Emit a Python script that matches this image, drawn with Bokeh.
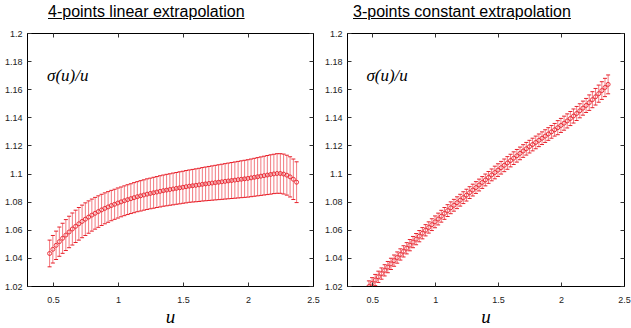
from bokeh.plotting import figure
from bokeh.models import (ColumnDataSource, Whisker, TeeHead, LinearAxis, FixedTicker,
                          CustomJSTickFormatter, Label, Range1d, Div)
from bokeh.layouts import row, column
from bokeh.embed import file_html
from bokeh.resources import INLINE

# ---------------- data ----------------
titles = ["4-points linear extrapolation", "3-points constant extrapolation"]
quantity_label = "σ(u)/u"
x_label = "u"
x_ticks = [0.5, 1.0, 1.5, 2.0, 2.5]
y_ticks = [1.02, 1.04, 1.06, 1.08, 1.1, 1.12, 1.14, 1.16, 1.18, 1.2]

u = [0.47, 0.495, 0.52, 0.545, 0.57, 0.595, 0.62, 0.645, 0.67, 0.695,
     0.72, 0.745, 0.77, 0.795, 0.82, 0.845, 0.87, 0.895, 0.92, 0.945,
     0.97, 0.995, 1.02, 1.045, 1.07, 1.095, 1.12, 1.145, 1.17, 1.195,
     1.22, 1.245, 1.27, 1.295, 1.32, 1.345, 1.37, 1.395, 1.42, 1.445,
     1.47, 1.495, 1.52, 1.545, 1.57, 1.595, 1.62, 1.645, 1.67, 1.695,
     1.72, 1.745, 1.77, 1.795, 1.82, 1.845, 1.87, 1.895, 1.92, 1.945,
     1.97, 1.995, 2.02, 2.045, 2.07, 2.095, 2.12, 2.145, 2.17, 2.195,
     2.22, 2.245, 2.27, 2.295, 2.32, 2.345, 2.37]

linear_val = [1.0435, 1.0465, 1.0493, 1.0519, 1.0543, 1.0566, 1.0588, 1.0609, 1.0628, 1.0646,
              1.0663, 1.0679, 1.0694, 1.0708, 1.0721, 1.0733, 1.0745, 1.0756, 1.0766, 1.0776,
              1.0785, 1.0794, 1.0802, 1.0810, 1.0818, 1.0825, 1.0832, 1.0839, 1.0845, 1.0851,
              1.0857, 1.0862, 1.0867, 1.0872, 1.0877, 1.0882, 1.0886, 1.0890, 1.0894, 1.0898,
              1.0902, 1.0906, 1.0910, 1.0914, 1.0917, 1.0920, 1.0923, 1.0927, 1.0930, 1.0933,
              1.0936, 1.0939, 1.0942, 1.0945, 1.0948, 1.0951, 1.0954, 1.0957, 1.0960, 1.0963,
              1.0966, 1.0969, 1.0973, 1.0977, 1.0981, 1.0985, 1.0989, 1.0993, 1.0997, 1.1001,
              1.1004, 1.1004, 1.1000, 1.0992, 1.0980, 1.0963, 1.0942]

linear_err = [0.0095, 0.0098, 0.0101, 0.0104, 0.0107, 0.0110, 0.0112, 0.0114, 0.0115, 0.0116,
              0.0116, 0.0116, 0.0115, 0.0114, 0.0113, 0.0112, 0.0111, 0.0110, 0.0109, 0.0108,
              0.0107, 0.0107, 0.0106, 0.0106, 0.0106, 0.0106, 0.0107, 0.0107, 0.0108, 0.0108,
              0.0109, 0.0109, 0.0110, 0.0110, 0.0111, 0.0111, 0.0112, 0.0112, 0.0113, 0.0113,
              0.0114, 0.0114, 0.0115, 0.0115, 0.0116, 0.0117, 0.0118, 0.0119, 0.0120, 0.0121,
              0.0122, 0.0123, 0.0124, 0.0125, 0.0126, 0.0127, 0.0128, 0.0129, 0.0130, 0.0131,
              0.0132, 0.0133, 0.0134, 0.0135, 0.0136, 0.0137, 0.0138, 0.0139, 0.0140, 0.0140,
              0.0141, 0.0141, 0.0142, 0.0142, 0.0143, 0.0144, 0.0145]

const_val = [1.0200, 1.0223, 1.0246, 1.0269, 1.0292, 1.0315, 1.0338, 1.0361, 1.0384, 1.0406,
             1.0428, 1.0450, 1.0472, 1.0494, 1.0516, 1.0537, 1.0558, 1.0579, 1.0600, 1.0620,
             1.0640, 1.0660, 1.0680, 1.0700, 1.0720, 1.0740, 1.0760, 1.0778, 1.0796, 1.0814,
             1.0832, 1.0850, 1.0868, 1.0886, 1.0904, 1.0922, 1.0940, 1.0958, 1.0976, 1.0994,
             1.1011, 1.1028, 1.1045, 1.1062, 1.1079, 1.1096, 1.1113, 1.1130, 1.1147, 1.1164,
             1.1180, 1.1195, 1.1210, 1.1225, 1.1240, 1.1255, 1.1270, 1.1285, 1.1300, 1.1315,
             1.1330, 1.1346, 1.1362, 1.1378, 1.1395, 1.1413, 1.1431, 1.1450, 1.1469, 1.1488,
             1.1508, 1.1529, 1.1550, 1.1572, 1.1594, 1.1616, 1.1638]

const_err = [0.0040, 0.0040, 0.0040, 0.0040, 0.0040, 0.0040, 0.0040, 0.0040, 0.0040, 0.0040,
             0.0040, 0.0040, 0.0040, 0.0040, 0.0040, 0.0040, 0.0040, 0.0040, 0.0040, 0.0040,
             0.0042, 0.0042, 0.0042, 0.0042, 0.0042, 0.0042, 0.0042, 0.0042, 0.0042, 0.0042,
             0.0042, 0.0042, 0.0042, 0.0042, 0.0042, 0.0042, 0.0042, 0.0042, 0.0042, 0.0042,
             0.0045, 0.0045, 0.0045, 0.0045, 0.0045, 0.0045, 0.0045, 0.0045, 0.0045, 0.0045,
             0.0045, 0.0045, 0.0045, 0.0045, 0.0045, 0.0045, 0.0045, 0.0045, 0.0045, 0.0045,
             0.0050, 0.0050, 0.0050, 0.0050, 0.0050, 0.0050, 0.0050, 0.0050, 0.0050, 0.0050,
             0.0055, 0.0057, 0.0059, 0.0061, 0.0063, 0.0065, 0.0067]

RED = "#e8202a"
TICK_FONT = "Liberation Sans"


def make_panel(title, vals, errs, frame_w, title_pad):
    src = ColumnDataSource(dict(
        u=u, v=vals,
        lo=[a - b for a, b in zip(vals, errs)],
        hi=[a + b for a, b in zip(vals, errs)],
    ))
    p = figure(frame_width=frame_w, frame_height=253,
               x_range=Range1d(0.3, 2.5), y_range=Range1d(1.02, 1.2),
               output_backend="svg", toolbar_location=None,
               min_border_left=27, min_border_right=7,
               min_border_top=5, min_border_bottom=40)
    p.grid.visible = False
    p.outline_line_color = "black"
    p.background_fill_color = "white"
    p.border_fill_color = "white"

    xa = p.below[0]
    ya = p.left[0]
    for ax, ticks in ((xa, x_ticks), (ya, y_ticks)):
        ax.ticker = FixedTicker(ticks=ticks, minor_ticks=[])
        ax.formatter = CustomJSTickFormatter(code="return tick.toString()")
        ax.major_tick_in = 4
        ax.major_tick_out = 0
        ax.minor_tick_in = 0
        ax.minor_tick_out = 0
        ax.axis_line_color = "black"
        ax.major_tick_line_color = "#333333"
        ax.major_label_text_font = TICK_FONT
        ax.major_label_text_font_size = "9px"
        ax.major_label_text_color = "#222222"
    xa.major_label_standoff = 10
    ya.major_label_standoff = 5
    xa.axis_label = x_label
    xa.axis_label_text_font = "Liberation Serif"
    xa.axis_label_text_font_style = "italic"
    xa.axis_label_text_font_size = "19px"
    xa.axis_label_text_color = "black"
    xa.axis_label_standoff = 0

    # mirror ticks on top and right (gnuplot style)
    top = LinearAxis(ticker=FixedTicker(ticks=x_ticks, minor_ticks=[]),
                     formatter=CustomJSTickFormatter(code="return ''"),
                     major_tick_in=4, major_tick_out=0, minor_tick_in=0, minor_tick_out=0,
                     major_label_standoff=0, major_label_text_font_size="0px",
                     axis_line_color="black", major_tick_line_color="#333333")
    right = LinearAxis(ticker=FixedTicker(ticks=y_ticks, minor_ticks=[]),
                       formatter=CustomJSTickFormatter(code="return ''"),
                       major_tick_in=4, major_tick_out=0, minor_tick_in=0, minor_tick_out=0,
                       major_label_standoff=0, major_label_text_font_size="0px",
                       axis_line_color="black", major_tick_line_color="#333333")
    p.add_layout(top, "above")
    p.add_layout(right, "right")

    w = Whisker(source=src, base="u", lower="lo", upper="hi",
                line_color=RED, line_width=0.8, line_alpha=0.75,
                lower_head=TeeHead(size=4, line_color=RED, line_width=1),
                upper_head=TeeHead(size=4, line_color=RED, line_width=1))
    p.add_layout(w)
    p.scatter("u", "v", source=src, marker="circle", size=4,
              fill_color=None, line_color=RED, line_width=0.9)

    p.add_layout(Label(x=0.45, y=1.170, text=quantity_label,
                       text_font="Liberation Serif", text_font_style="italic",
                       text_font_size="17px", text_color="black",
                       text_baseline="middle"))

    d = Div(text=('<div style="font-family:\'Liberation Sans\',Arial,sans-serif;'
                  'font-size:16px;line-height:18px;color:black;'
                  'padding-left:%dpx;padding-top:3px;white-space:nowrap;">'
                  '<span style="text-decoration:underline;">%s</span></div>') % (title_pad, title),
            width=frame_w + 34, height=28, margin=(0, 0, 0, 0))
    return column(d, p, spacing=0)


left_panel = make_panel(titles[0], linear_val, linear_err, 286, 48)
right_panel = make_panel(titles[1], const_val, const_err, 277, 33)
layout = row(left_panel, right_panel, spacing=0)

open("out.html", "w").write(file_html(layout, INLINE))
